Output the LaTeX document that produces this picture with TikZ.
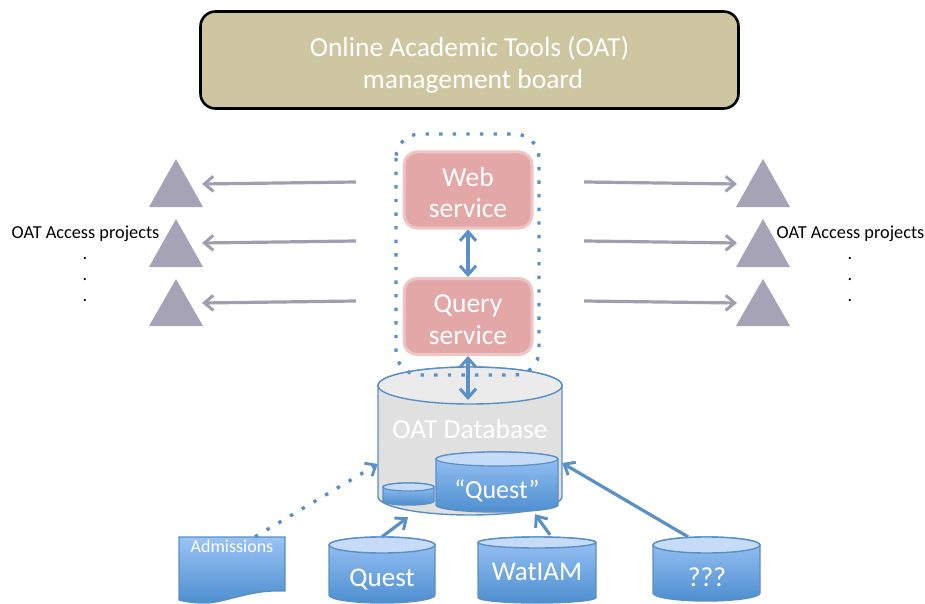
\documentclass[tikz,border=0pt]{standalone}
\usepackage{fontspec}
\setmainfont{Carlito}
\usetikzlibrary{arrows.meta,shapes.geometric}
\definecolor{boardfill}{HTML}{CDC6A0}
\definecolor{svcfill}{HTML}{E2A7A6}
\definecolor{svcline}{HTML}{EEC6C5}
\definecolor{blueline}{HTML}{5B90C6}
\definecolor{cylline}{HTML}{5A8FC4}
\definecolor{cyltop}{HTML}{C6DBF8}
\definecolor{gradtop}{HTML}{9AC3F5}
\definecolor{gradbot}{HTML}{4E8FD0}
\definecolor{tri}{HTML}{A5A3B5}
\definecolor{grayarrow}{HTML}{A09FB0}
\tikzset{
  board/.style={draw=black,line width=2.6pt,fill=boardfill,rounded corners=15pt,minimum width=538pt,minimum height=97pt,inner sep=0pt},
  boardtext/.style={inner sep=0pt,text=white,align=center,font=\fontsize{27.5}{32}\selectfont},
  svc/.style={draw=svcline,line width=3pt,fill=svcfill,rounded corners=13pt,minimum width=128pt,minimum height=76pt,inner sep=0pt},
  svctext/.style={inner sep=0pt,text=white,align=center,font=\fontsize{27.5}{31.5}\selectfont},
  triangleshape/.style={fill=tri,draw=none},
  grayarr/.style={draw=grayarrow,line width=3.2pt,-{Straight Barb[length=9pt,width=15pt,line width=3pt]}},
  bluearr/.style={draw=blueline,line width=3.2pt,-{Straight Barb[length=9pt,width=15pt,line width=3pt]}},
  bluedbl/.style={draw=blueline,line width=3.2pt,{Straight Barb[length=9pt,width=16pt,line width=3pt]}-{Straight Barb[length=9pt,width=16pt,line width=3pt]}},
  dots/.style={draw=blueline,line width=3.4pt,dash pattern=on 3.4pt off 10.2pt},
  lab/.style={text=black,font=\fontsize{18.3}{22}\selectfont,inner sep=0pt},
  ctext/.style={text=white,inner sep=0pt},
  box/.style={inner sep=0pt,draw=none},
}
% name, left, right, ellipse centre y, ellipse ry, bottom y, body fill options
\newcommand{\cylshape}[7]{%
  \pgfmathsetmacro{\cylrx}{(#3-#2)/2}%
  \pgfmathsetmacro{\cylcx}{(#3+#2)/2}%
  \pgfmathsetmacro{\cylcurve}{#6-#5}%
  \pgfmathsetmacro{\cyltopy}{#4-#5}%
  \path[#7,draw=cylline,line width=1.4pt] (#2,#4) -- (#2,\cylcurve) arc[start angle=180,end angle=360,x radius=\cylrx pt,y radius=#5 pt] -- (#3,#4) arc[start angle=0,end angle=180,x radius=\cylrx pt,y radius=#5 pt] -- cycle;
  \node[box,minimum width=#3pt-#2pt,minimum height=#6pt-\cyltopy pt] (#1) at (\cylcx,{(#6+\cyltopy)/2}) {};
}
\begin{document}
\begin{tikzpicture}[x=1pt,y=-1pt]
\useasboundingbox (0,0) rectangle (925,604);
\node[board] (boardn) at (469.5,60) {};
\node[boardtext] (boardt) at (469.5,65) {Online Academic Tools (OAT)\\\hspace*{7pt}management board};
% services
\node[svc] (web) at (468,190) {};
\node[svctext] (webt) at (468,192.5) {Web\\service};
\node[svc] (query) at (468,316.5) {};
\node[svctext] (queryt) at (468,319.5) {Query\\service};
% triangles
\foreach \nm/\cx/\ay/\by in {tl1/176/159/207,tl2/176/219/267,tl3/176/279/326,tr1/763/159/207,tr2/763/219/267,tr3/763/279/326}{
  \pgfmathsetmacro{\midy}{(\ay+\by)/2}
  \node[triangleshape,inner sep=0pt] (\nm) at (\cx,\midy) {};
  \fill[tri] (\cx-27,\by) -- (\cx,\ay) -- (\cx+27,\by) -- cycle;
}
% gray arrows
\coordinate (sl1) at (356,182); \coordinate (sl2) at (356,241); \coordinate (sl3) at (356,301);
\coordinate (sr1) at (584,182); \coordinate (sr2) at (584,241); \coordinate (sr3) at (584,301);
\draw[grayarr] (sl1) -- ([xshift=26pt,yshift=-1pt]tl1.center);
\draw[grayarr] (sl2) -- ([xshift=26pt,yshift=0pt]tl2.center);
\draw[grayarr] (sl3) -- ([xshift=26pt,yshift=-0.5pt]tl3.center);
\draw[grayarr] (sr1) -- ([xshift=-26pt,yshift=-1pt]tr1.center);
\draw[grayarr] (sr2) -- ([xshift=-26pt,yshift=0pt]tr2.center);
\draw[grayarr] (sr3) -- ([xshift=-26pt,yshift=-0.5pt]tr3.center);
% labels
\node[lab] (ll) at (85.5,234) {OAT Access projects};
\node[lab] (ld1) at (85,259) {.};
\node[lab] (ld2) at (85,280) {.};
\node[lab] (ld3) at (85,301) {.};
\node[lab] (rl) at (850.5,234) {OAT Access projects};
\node[lab] (rd1) at (850,259) {.};
\node[lab] (rd2) at (850,280) {.};
\node[lab] (rd3) at (850,301) {.};
% database
\cylshape{db}{378}{562}{385.5}{18.5}{515}{fill=black!12}
\draw[cylline,line width=1.4pt,fill=black!8] (470,385.5) ellipse[x radius=92pt,y radius=18.5pt];
\node[ctext,font=\fontsize{27.5}{30}\selectfont] (dbt) at (470,429) {OAT Database};
% small cylinder
\cylshape{sm}{383}{434}{487}{4}{505}{top color=gradtop,bottom color=gradbot}
\draw[cylline,line width=1.2pt,fill=cyltop] (408.5,487) ellipse[x radius=25.5pt,y radius=4pt];
% inner Quest
\cylshape{iq}{436}{558}{459}{7}{512}{top color=gradtop,bottom color=gradbot}
\draw[cylline,line width=1.2pt,fill=cyltop] (497,459) ellipse[x radius=61pt,y radius=7pt];
\node[ctext,font=\fontsize{26}{30}\selectfont] (iqt) at (497,490.5) {“Quest”};
% bottom cylinders
\cylshape{quest}{329}{435}{545}{8}{603}{top color=gradtop,bottom color=gradbot}
\draw[cylline,line width=1.4pt,fill=cyltop] (382,545) ellipse[x radius=53pt,y radius=8pt];
\node[ctext,font=\fontsize{27}{30}\selectfont] (questt) at (382,580) {Quest};
\cylshape{wat}{478}{596}{542.5}{5.5}{603}{top color=gradtop,bottom color=gradbot}
\draw[cylline,line width=1.4pt,fill=cyltop] (537,542.5) ellipse[x radius=59pt,y radius=5.5pt];
\node[ctext,font=\fontsize{27}{30}\selectfont] (watt) at (537,571.5) {WatIAM};
\cylshape{unk}{653}{760}{545}{8}{601}{top color=gradtop,bottom color=gradbot}
\draw[cylline,line width=1.4pt,fill=cyltop] (706.5,545) ellipse[x radius=53.5pt,y radius=8pt];
\node[ctext,font=\fontsize{27.5}{30}\selectfont] (unkt) at (707,577.5) {???};
% document
\path[top color=gradtop,bottom color=gradbot,draw=cylline,line width=1.4pt] (179,537) -- (285,537) -- (285,591) .. controls (250,589) and (225,603) .. (205,603) .. controls (195,603) and (187,602) .. (179,600) -- cycle;
\node[box,minimum width=106pt,minimum height=66pt] (adm) at (232,570) {};
\node[ctext,font=\fontsize{18}{20}\selectfont] (admt) at (232,546.5) {Admissions};
% dotted group
\draw[dots,rounded corners=24pt] (396,134) rectangle (539,375);
% connectors
\draw[bluedbl] (web.south) -- (query.north);
\coordinate (dbin) at (468,400);
\draw[bluedbl] (query.south) -- (dbin);
\draw[dots,-{Straight Barb[length=9pt,width=15pt,line width=2.8pt]}] ([xshift=23pt]adm.north) -- ([yshift=-23pt]db.west);
\draw[bluearr] (quest.north) -- ([xshift=-62pt,yshift=-2pt]db.south);
\draw[bluearr] ([xshift=13pt,yshift=2pt]wat.north) -- ([xshift=65pt,yshift=1pt]db.south);
\draw[bluearr] ([xshift=-18.5pt]unk.north) -- ([yshift=-22pt]db.east);
\end{tikzpicture}
\end{document}
